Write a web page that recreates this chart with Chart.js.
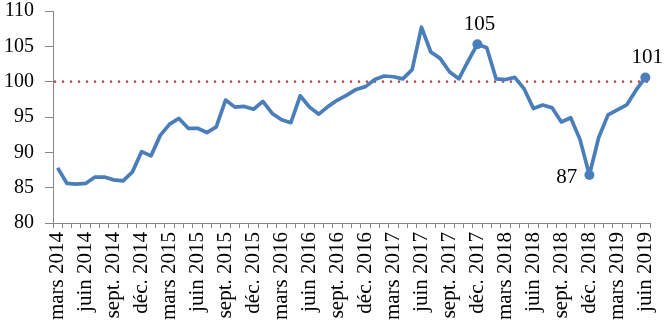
<!DOCTYPE html>
<html>
<head>
<meta charset="utf-8">
<script src="https://cdn.jsdelivr.net/npm/chart.js@4/dist/chart.umd.min.js"></script>
<style>
html,body{margin:0;padding:0;background:#fff;}
#wrap{width:668px;height:331px;position:relative;}
</style>
</head>
<body>
<div id="wrap"><canvas id="c"></canvas></div>
<script>
const categories = [
 'mars 2014','avr. 2014','mai 2014','juin 2014','juil. 2014','août 2014','sept. 2014','oct. 2014','nov. 2014','déc. 2014',
 'janv. 2015','févr. 2015','mars 2015','avr. 2015','mai 2015','juin 2015','juil. 2015','août 2015','sept. 2015','oct. 2015','nov. 2015','déc. 2015',
 'janv. 2016','févr. 2016','mars 2016','avr. 2016','mai 2016','juin 2016','juil. 2016','août 2016','sept. 2016','oct. 2016','nov. 2016','déc. 2016',
 'janv. 2017','févr. 2017','mars 2017','avr. 2017','mai 2017','juin 2017','juil. 2017','août 2017','sept. 2017','oct. 2017','nov. 2017','déc. 2017',
 'janv. 2018','févr. 2018','mars 2018','avr. 2018','mai 2018','juin 2018','juil. 2018','août 2018','sept. 2018','oct. 2018','nov. 2018','déc. 2018',
 'janv. 2019','févr. 2019','mars 2019','avr. 2019','mai 2019','juin 2019'
];
const tickLabels = ['mars 2014','juin 2014','sept. 2014','déc. 2014','mars 2015','juin 2015','sept. 2015','déc. 2015',
 'mars 2016','juin 2016','sept. 2016','déc. 2016','mars 2017','juin 2017','sept. 2017','déc. 2017',
 'mars 2018','juin 2018','sept. 2018','déc. 2018','mars 2019','juin 2019'];
const values = [
 87.8,85.6,85.5,85.6,86.5,86.5,86.1,85.95,87.2,90.1,
 89.5,92.4,94.0,94.8,93.4,93.4,92.8,93.6,97.4,96.4,96.5,96.1,
 97.2,95.5,94.6,94.2,98.0,96.4,95.4,96.5,97.4,98.1,98.9,99.3,
 100.3,100.8,100.7,100.4,101.7,107.7,104.2,103.3,101.4,100.4,102.9,105.3,
 104.8,100.4,100.3,100.6,99.0,96.2,96.7,96.3,94.3,94.9,91.8,86.8,
 92.1,95.3,96.0,96.7,98.8,100.6
];
const referenceValue = 100;
const highlightMonths = ['déc. 2017','déc. 2018','juin 2019'];
const highlightSides = ['top','left','top'];
const yTicks = [80,85,90,95,100,105,110];

const FONT = '"Liberation Serif", "DejaVu Serif", serif';
const highlightIdx = highlightMonths.map(m => categories.indexOf(m));

const refLinePlugin = {
  id: 'refLine',
  beforeDatasetsDraw(chart) {
    const {ctx, chartArea, scales} = chart;
    const y = scales.y.getPixelForValue(referenceValue);
    ctx.save();
    ctx.strokeStyle = '#C0504D';
    ctx.lineWidth = 2.6;
    ctx.lineCap = 'round';
    ctx.setLineDash([0, 8]);
    ctx.beginPath();
    ctx.moveTo(chartArea.left + 2, y);
    ctx.lineTo(chartArea.right, y);
    ctx.stroke();
    ctx.restore();
  }
};
const labelPlugin = {
  id: 'pointLabels',
  afterDatasetsDraw(chart) {
    const {ctx} = chart;
    const meta = chart.getDatasetMeta(0);
    ctx.save();
    ctx.font = '21px ' + FONT;
    ctx.fillStyle = '#000';
    highlightIdx.forEach((i, k) => {
      const p = meta.data[i];
      const txt = String(Math.round(values[i]));
      if (highlightSides[k] === 'top') {
        ctx.textAlign = 'center'; ctx.textBaseline = 'bottom';
        ctx.fillText(txt, p.x + 2, p.y - 9);
      } else {
        ctx.textAlign = 'right'; ctx.textBaseline = 'middle';
        ctx.fillText(txt, p.x - 12, p.y + 3);
      }
    });
    ctx.restore();
  }
};

new Chart(document.getElementById('c'), {
  type: 'line',
  data: {
    labels: categories,
    datasets: [{
      data: values,
      borderColor: '#4A7EBB',
      backgroundColor: '#4A7EBB',
      borderWidth: 3.7,
      borderJoinStyle: 'round',
      tension: 0,
      pointRadius: values.map((v, i) => highlightIdx.includes(i) ? 5 : 0),
      pointHoverRadius: 0,
      pointBorderWidth: 0
    }]
  },
  options: {
    responsive: true,
    maintainAspectRatio: false,
    animation: false,
    events: [],
    layout: {padding: {left: 0, right: 18, top: 11, bottom: 0}},
    plugins: {legend: {display: false}, tooltip: {enabled: false}},
    scales: {
      x: {
        offset: true,
        grid: {display: true, drawOnChartArea: false, offset: true, color: '#888', tickLength: 5},
        border: {display: true, color: '#888', width: 1},
        afterFit(scale) { scale.height = 108; scale.paddingLeft = 0; scale.paddingRight = 0; },
        ticks: {
          autoSkip: false, maxRotation: 90, minRotation: 90, padding: 4,
          color: '#000', font: {family: FONT, size: 21},
          callback(val, i) { const c = categories[i]; return tickLabels.includes(c) ? c : ''; }
        }
      },
      y: {
        min: 80, max: 110,
        afterBuildTicks(scale) { scale.ticks = yTicks.map(v => ({value: v})); },
        afterFit(scale) { scale.width = 53; scale.paddingTop = 0; scale.paddingBottom = 0; },
        grid: {display: true, drawOnChartArea: false, color: '#888', tickLength: 8},
        border: {display: true, color: '#888', width: 1},
        ticks: {color: '#000', padding: 11, font: {family: FONT, size: 20}}
      }
    }
  },
  plugins: [refLinePlugin, labelPlugin]
});
</script>
</body>
</html>
